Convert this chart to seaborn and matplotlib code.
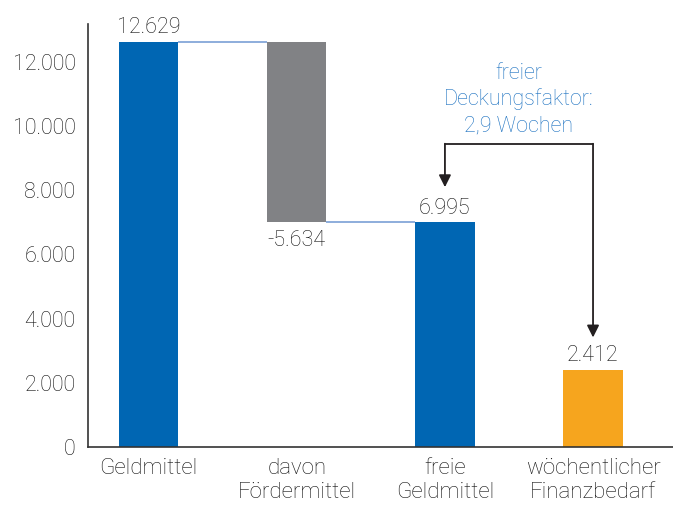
import matplotlib
matplotlib.use("Agg")
import matplotlib.pyplot as plt
import seaborn as sns
import pandas as pd
from matplotlib.ticker import FuncFormatter

# Data
categories = ["Geldmittel", "davon\nFördermittel", "freie\nGeldmittel", "wöchentlicher\nFinanzbedarf"]
heights = [12629, 5634, 6995, 2412]
bottoms = [0, 6995, 0, 0]
value_labels = ["12.629", "-5.634", "6.995", "2.412"]
bar_colors = ["#0066b3", "#818285", "#0066b3", "#f6a51e"]
y_ticks = [0, 2000, 4000, 6000, 8000, 10000, 12000]
note_text = "freier\nDeckungsfaktor:\n2,9 Wochen"

TEXT = "#111111"
LINK = "#7a9fd6"
NOTE = "#1a70c0"
FS = 15.5
WEIGHT = "light"


def thousands(v, _pos=None):
    return f"{v:,.0f}".replace(",", ".")


sns.set_theme(style="white")
plt.rcParams["font.family"] = ["Roboto", "DejaVu Sans"]

df = pd.DataFrame({"category": categories, "height": heights, "bottom": bottoms})

fig = plt.figure(figsize=(6.73, 5.05), dpi=100)
ax = fig.add_axes([0.1308, 0.1149, 0.8692, 0.8376])

sns.barplot(data=df, x="category", y="height", order=categories,
            bottom=df["bottom"].values, width=0.4, ax=ax, color=bar_colors[0])
for patch, c in zip(ax.patches, bar_colors):
    patch.set_facecolor(c)
    patch.set_edgecolor("none")

# connector lines
ax.hlines(heights[0], 0.2, 0.8, color=LINK, lw=1.2)
ax.hlines(heights[2], 1.2, 1.8, color=LINK, lw=1.2)

# value labels
for i, (h, b, lab) in enumerate(zip(heights, bottoms, value_labels)):
    if i == 1:
        ax.text(i, b - 220, lab, ha="center", va="top", fontsize=FS,
                color=TEXT, fontweight=WEIGHT)
    else:
        ax.text(i, b + h + 100, lab, ha="center", va="bottom", fontsize=FS,
                color=TEXT, fontweight=WEIGHT)

# bracket arrow between free funds and weekly need
bracket_y = heights[0] - 3200
ax.plot([2, 3], [bracket_y, bracket_y], color="#231f20", lw=1.3)
ax.annotate("", xy=(2, heights[2] + 1100), xytext=(2, bracket_y + 20),
            arrowprops=dict(arrowstyle="-|>", color="#231f20", lw=1.3,
                            mutation_scale=18, shrinkA=0, shrinkB=0))
ax.annotate("", xy=(3, heights[3] + 1000), xytext=(3, bracket_y + 20),
            arrowprops=dict(arrowstyle="-|>", color="#231f20", lw=1.3,
                            mutation_scale=18, shrinkA=0, shrinkB=0))
ax.text(2.5, bracket_y + 1400, note_text, ha="center", va="center",
        fontsize=FS, color=NOTE, fontweight=WEIGHT, linespacing=1.3)

ax.set_xlim(-0.41, 3.54)
ax.set_ylim(0, 13180)
ax.set_yticks(y_ticks)
ax.yaxis.set_major_formatter(FuncFormatter(thousands))
ax.set_xlabel("")
ax.set_ylabel("")
ax.tick_params(axis="both", length=0, labelsize=FS, labelcolor=TEXT)
ax.tick_params(axis="y", pad=9)
ax.tick_params(axis="x", pad=8, labelsize=16)
for lab in ax.get_xticklabels() + ax.get_yticklabels():
    lab.set_fontweight(WEIGHT)

sns.despine(ax=ax)
for side in ["left", "bottom"]:
    ax.spines[side].set_color("#333333")
    ax.spines[side].set_linewidth(1.2)

fig.savefig("out.png", dpi=100)
